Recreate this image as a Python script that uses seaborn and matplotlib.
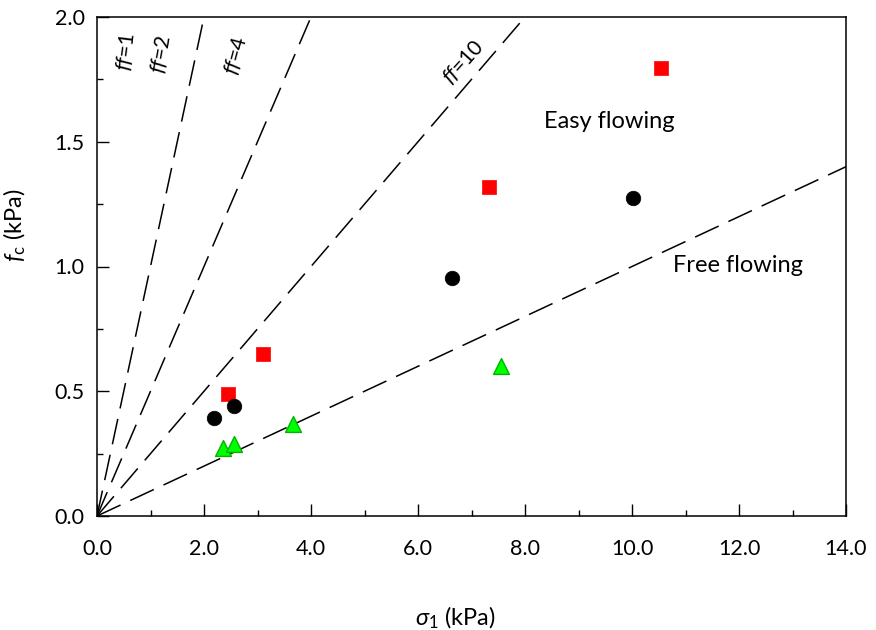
import matplotlib
matplotlib.use("Agg")
import matplotlib.pyplot as plt
import seaborn as sns
import numpy as np
import pandas as pd
from matplotlib.ticker import MultipleLocator

# ---- data ----
sq_sigma = [2.45, 3.10, 7.32, 10.54]
sq_fc = [0.488, 0.648, 1.319, 1.794]
ci_sigma = [2.18, 2.57, 6.64, 10.01]
ci_fc = [0.392, 0.442, 0.954, 1.273]
tr_sigma = [2.35, 2.56, 3.67, 7.55]
tr_fc = [0.273, 0.289, 0.368, 0.600]
ff_values = [1, 2, 4, 10]
ff_labels = ["1", "2", "4", "10"]
x_ticks = [0, 2, 4, 6, 8, 10, 12, 14]
y_ticks = [0.0, 0.5, 1.0, 1.5, 2.0]

sns.set_theme(style="white")
plt.rcParams['font.family'] = ['Lato', 'DejaVu Sans']
plt.rcParams['mathtext.fontset'] = 'custom'
plt.rcParams['mathtext.it'] = 'Lato:italic'
plt.rcParams['mathtext.rm'] = 'Lato'
plt.rcParams['mathtext.default'] = 'it'

fig = plt.figure(figsize=(8.76, 6.3), dpi=100)
ax = fig.add_axes([97/876, 1-516/630, (846-97)/876, (516-17)/630])

# flow-function lines
xs = np.array([0.0, 14.0])
for ff in ff_values:
    d = pd.DataFrame({"x": xs, "y": xs / ff})
    sns.lineplot(data=d, x="x", y="y", ax=ax, color="black", lw=1.1,
                 dashes=False, estimator=None)
for ln in ax.lines:
    ln.set_dashes((17, 7))
    ln.set_dash_capstyle("butt")

sns.scatterplot(x=sq_sigma, y=sq_fc, ax=ax, marker="s", s=95, color="#ff0000",
                edgecolor="#ff0000", linewidth=0.5, zorder=5)
sns.scatterplot(x=ci_sigma, y=ci_fc, ax=ax, marker="o", s=110, color="black",
                edgecolor="black", linewidth=0.5, zorder=5)
sns.scatterplot(x=tr_sigma, y=tr_fc, ax=ax, marker="^", s=130, color="#00ff00",
                edgecolor="#00b400", linewidth=1.0, zorder=5)

ax.set_xlim(0, 14)
ax.set_ylim(0, 2)
ax.set_xticks(x_ticks)
ax.set_xticklabels([f"{v:.1f}" for v in x_ticks])
ax.set_yticks(y_ticks)
ax.set_yticklabels([f"{v:.1f}" for v in y_ticks])
ax.xaxis.set_minor_locator(MultipleLocator(1))
ax.yaxis.set_minor_locator(MultipleLocator(0.25))
ax.tick_params(axis="both", which="major", direction="in", length=8.5, width=1,
               color="black", bottom=True, left=True)
ax.tick_params(axis="both", which="minor", direction="in", length=4.3, width=1,
               color="black", bottom=True, left=True)
ax.tick_params(axis="x", which="major", labelsize=15.5, pad=16.5, labelcolor="black")
ax.tick_params(axis="y", which="major", labelsize=15.5, pad=9, labelcolor="black")
for sp in ax.spines.values():
    sp.set_color("black")
    sp.set_linewidth(1.1)

ax.set_xlabel(r"$\sigma_{\mathrm{1}}$ (kPa)", fontsize=17, color="black")
ax.set_ylabel(r"$f_{\mathrm{c}}$ (kPa)", fontsize=17, color="black")
ax.xaxis.set_label_coords((455-97)/(846-97), -(605-516)/(516-17))
ax.yaxis.set_label_coords(-(97-28)/(846-97), (516-225)/(516-17))

# labels for flow functions (axes pixel positions -> data)
lab_pos = [(126, 52, 83), (161, 54, 80), (236, 55, 75), (463, 62, 48)]
for lbl, (px, py, rot) in zip(ff_labels, lab_pos):
    xd = (px - 97) / (846 - 97) * 14
    yd = (516 - py) / (516 - 17) * 2
    ax.text(xd, yd, r"$ff$=" + lbl, rotation=rot, fontsize=15,
            ha="center", va="center", color="black", rotation_mode="anchor")

ax.text((609-97)/(846-97)*14, (516-121)/(516-17)*2, "Easy flowing",
        fontsize=17, ha="center", va="center", color="black")
ax.text((738-97)/(846-97)*14, (516-266)/(516-17)*2, "Free flowing",
        fontsize=17, ha="center", va="center", color="black")

fig.savefig("out.png", dpi=100)
